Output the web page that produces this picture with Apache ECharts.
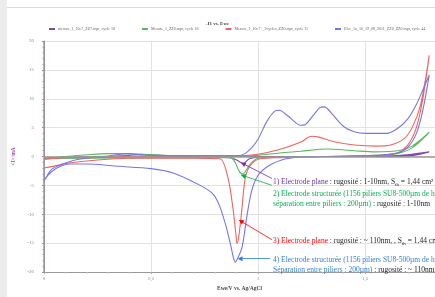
<!DOCTYPE html>
<html>
<head>
<meta charset="utf-8">
<script src="https://cdn.jsdelivr.net/npm/echarts@6/dist/echarts.min.js"></script>
<style>
  html, body { margin: 0; padding: 0; background: #fff; }
  #container { width: 435px; height: 297px; }
</style>
</head>
<body>
<div id="container"></div>
<script>
// series names (legend)
var names = [
    'mesure_1_10e7_ZZ7.mpr, cycle 18',
    'Mesure_1_ZZ0.mpr, cycle 18',
    'Mesure_1_10e7+_2cycles_ZZ0.mpr, cycle 11',
    'Elec_1a_10_19_08_2011_ZZ0_ZZ0.mpr, cycle 44'
];

// 1) electrode plane, 1-10nm (purple)
var ewe1 = [0, 0.1, 0.3, 0.4, 0.45, 0.5, 0.6, 0.8, 1.0, 1.2, 1.4, 1.6, 1.7, 1.8,
            1.7, 1.5, 1.2, 1.0, 0.96, 0.93, 0.9, 0.87, 0.8, 0.5, 0.2, 0];
var cur1 = [-0.3, -0.15, 0, 0.2, 0.4, 0.3, 0.1, 0, 0, 0, 0, 0.1, 0.3, 0.8,
            0.1, 0, 0, -0.1, -0.4, -1.2, -0.6, -0.2, -0.1, -0.1, -0.2, -0.3];

// 2) electrode structuree, 1-10nm (green)
var ewe2 = [0, 0.1, 0.2, 0.3, 0.4, 0.45, 0.55, 0.7, 0.9, 1.0, 1.1, 1.2, 1.32, 1.45, 1.55, 1.65, 1.72, 1.8,
            1.72, 1.65, 1.55, 1.3, 1.0, 0.96, 0.935, 0.925, 0.91, 0.89, 0.87, 0.5, 0.2, 0];
var cur2 = [-0.3, 0, 0.3, 0.5, 0.5, 0.4, 0.2, 0.05, 0, 0.2, 0.6, 0.9, 1.3, 1.0, 0.8, 1.0, 1.8, 4.2,
            1.5, 0.5, 0.1, 0, -0.3, -1.5, -2.9, -3.0, -2.4, -0.8, -0.2, -0.2, -0.3, -0.3];

// 3) electrode plane, ~110nm (red)
var ewe3 = [0, 0.1, 0.3, 0.5, 0.7, 0.9, 1.0, 1.1, 1.2, 1.25, 1.28, 1.35, 1.45, 1.55, 1.62, 1.68, 1.72, 1.76, 1.8,
            1.77, 1.74, 1.7, 1.65, 1.55, 1.3, 1.1, 1.01, 0.963, 0.94, 0.925, 0.911, 0.902, 0.897, 0.883, 0.86, 0.822,
            0.7, 0.4, 0.25, 0.1, 0.07, 0];
var cur3 = [-0.5, -0.2, 0, 0.1, 0.1, 0.1, 0.4, 1.2, 2.5, 3.5, 3.4, 2.6, 2.0, 1.8, 2.0, 3.0, 5.0, 9.0, 17.5,
            10, 5, 2, 0.6, 0.2, 0, -0.2, -0.4, -1.6, -3.8, -9, -13.6, -15.1, -13.6, -9, -3.8, -0.4,
            -0.3, -0.3, -0.6, -1.2, -1.5, -2];

// 4) electrode structuree, ~110nm (blue)
var ewe4 = [0, 0.04, 0.135, 0.215, 0.3, 0.39, 0.45, 0.55, 0.9, 0.95, 1.0, 1.04, 1.08, 1.1, 1.14, 1.2, 1.22, 1.26, 1.29, 1.31,
            1.35, 1.4, 1.45, 1.5, 1.6, 1.65, 1.7, 1.74, 1.77, 1.8,
            1.77, 1.74, 1.7, 1.65, 1.55, 1.3, 1.2, 1.13, 1.05, 1.0, 0.97, 0.947, 0.925, 0.9, 0.893, 0.885, 0.87, 0.85,
            0.82, 0.79, 0.73, 0.6, 0.5, 0.35, 0.2, 0.12, 0.06, 0.02, 0];
var cur4 = [-4.3, -2.1, -0.7, -0.2, 0.1, 0.5, 0.3, 0.1, 0.1, 0.8, 3, 6, 7.9, 8, 7, 5.4, 5.5, 7.2, 8.5, 8.6,
            7.2, 5.2, 4.3, 4.0, 4.0, 4.8, 6.5, 9, 11.5, 14.1,
            8, 4, 1.6, 0.6, 0.2, 0, -0.1, -0.4, -1.6, -3.3, -6, -10.6, -15.8, -18, -18.3, -17.5, -15, -12,
            -8.5, -6.5, -5, -2.8, -2.1, -1.7, -1.3, -1.3, -2, -3.2, -4.3];

var colors = ['#8447ac', '#5cb85c', '#f06262', '#7676e6'];
var textColors = ['#7030a0', '#00b050', '#ff0000', '#2f7fd0'];

// arrows: [tail, head] in (Ewe, I)
var arrows = [
    [[1.065, -3.8], [0.93, -1.25]],
    [[1.065, -5.0], [0.93, -3.3]],
    [[1.065, -14.4], [0.92, -11.2]],
    [[1.056, -17.7], [0.916, -17.7]]
];

function zip(xs, ys) {
    var out = [];
    for (var i = 0; i < xs.length; i++) {
        out.push([xs[i], ys[i]]);
    }
    return out;
}

var dom = document.getElementById('container');
var myChart = echarts.init(dom, null, {renderer: 'canvas'});

var allX = [ewe1, ewe2, ewe3, ewe4];
var allY = [cur1, cur2, cur3, cur4];
var series = [];
for (var k = 0; k < 4; k++) {
    series.push({
        name: names[k],
        type: 'line',
        data: zip(allX[k], allY[k]),
        smooth: 0.3,
        showSymbol: false,
        z: 3,
        lineStyle: {color: colors[k], width: 1.1},
        itemStyle: {color: colors[k]}
    });
}

// zero lines under the curves
series.push({
    type: 'line',
    data: [],
    z: 1,
    silent: true,
    markLine: {
        silent: true,
        symbol: ['none', 'none'],
        label: {show: false},
        animation: false,
        lineStyle: {color: '#9a9a9a', width: 1.5, type: 'solid'},
        data: [{yAxis: 0}, {xAxis: 0}]
    }
});

// annotation arrows
var arrowData = [];
for (var a = 0; a < arrows.length; a++) {
    arrowData.push([
        {coord: arrows[a][0], lineStyle: {color: textColors[a], width: 0.8, type: 'solid'}},
        {coord: arrows[a][1]}
    ]);
}
series.push({
    type: 'line',
    data: [],
    z: 5,
    silent: true,
    markLine: {
        silent: true,
        symbol: ['none', 'triangle'],
        symbolSize: 5,
        label: {show: false},
        animation: false,
        data: arrowData
    }
});

var serif = '"Liberation Serif", "DejaVu Serif", serif';
var fs = 7.5;
function rich(c) {
    return {
        c: {fill: c, fontSize: fs, fontFamily: serif},
        k: {fill: '#222', fontSize: fs, fontFamily: serif},
        s: {fill: '#222', fontSize: 5, fontFamily: serif, verticalAlign: 'bottom'}
    };
}
function note(x, y, text, c) {
    return {
        type: 'text', left: x, top: y, silent: true, z: 10,
        style: {text: text, rich: rich(c), font: fs + 'px ' + serif, lineHeight: 10}
    };
}

option = {
    backgroundColor: '#fff',
    animation: false,
    color: colors,
    title: {
        text: '-I1 vs. Ewe',
        left: 'center',
        top: 16,
        textStyle: {fontSize: 5, fontWeight: 'bold', color: '#444', fontFamily: serif}
    },
    legend: {
        top: 22,
        left: 44,
        width: 391,
        itemGap: 27,
        itemWidth: 6,
        itemHeight: 2,
        icon: 'rect',
        data: names,
        textStyle: {fontSize: 4, color: '#666', fontFamily: serif, padding: [0, 0, 0, -2]}
    },
    grid: {left: 44, right: 0, top: 41, bottom: 21},
    xAxis: {
        type: 'value',
        min: 0,
        max: 1.827,
        interval: 0.5,
        name: 'Ewe/V vs. Ag/AgCl',
        nameLocation: 'middle',
        nameGap: 14,
        nameTextStyle: {fontSize: 5.5, fontWeight: 'bold', color: '#444', fontFamily: serif},
        axisLine: {onZero: false, lineStyle: {color: '#999'}},
        axisTick: {show: true, length: 2, lineStyle: {color: '#aaa'}},
        minorTick: {show: true, splitNumber: 5, length: 1.5, lineStyle: {color: '#bbb'}},
        axisLabel: {
            fontSize: 5, color: '#888', margin: 4, fontFamily: serif, showMaxLabel: false,
            formatter: function(v) { return String(v).replace('.', ','); }
        },
        splitLine: {show: true, lineStyle: {color: '#e2e2e2', width: 1}}
    },
    yAxis: {
        type: 'value',
        min: -20,
        max: 20,
        interval: 5,
        offset: 7,
        name: '<I>/mA',
        nameLocation: 'middle',
        nameGap: 20,
        nameTextStyle: {fontSize: 5.5, fontWeight: 'bold', color: '#9a4aa0', fontFamily: serif},
        axisLine: {show: true, lineStyle: {color: '#a47ea8'}},
        axisTick: {show: true, length: 2, lineStyle: {color: '#a47ea8'}},
        minorTick: {show: true, splitNumber: 5, length: 1.5, lineStyle: {color: '#b79ab9'}},
        axisLabel: {fontSize: 5, color: '#a07aa7', margin: 3, fontFamily: serif},
        splitLine: {show: true, lineStyle: {color: '#e2e2e2', width: 1}}
    },
    graphic: [
        {type: 'rect', left: 0, top: 0, shape: {width: 7, height: 297}, style: {fill: '#ececec'}, silent: true},
        {type: 'line', shape: {x1: 7, y1: 7.5, x2: 435, y2: 7.5}, style: {stroke: '#dcdcdc', lineWidth: 1}, silent: true},
        note(273, 177, '{c|1) Electrode plane}{k| : rugosité : 1-10nm, S}{s|th}{k| = 1,44 cm²}', textColors[0]),
        note(273, 189, '{c|2) Electrode structurée (1156 piliers SU8-500µm de hauteur}\n{c|séparation entre piliers : 200µm)}{k| : rugosité : 1-10nm}', textColors[1]),
        note(273, 236, '{c|3) Electrode plane}{k| : rugosité : ~ 110nm, , S}{s|th}{k| = 1,44 cm²}', textColors[2]),
        note(273, 255, '{c|4) Electrode structurée (1156 piliers SU8-500µm de hauteur}\n{c|Séparation entre piliers : 200µm)}{k| : rugosité : ~ 110nm}', textColors[3])
    ],
    series: series
};

if (option && typeof option === "object") {
    myChart.setOption(option, true);
}
</script>
</body>
</html>
